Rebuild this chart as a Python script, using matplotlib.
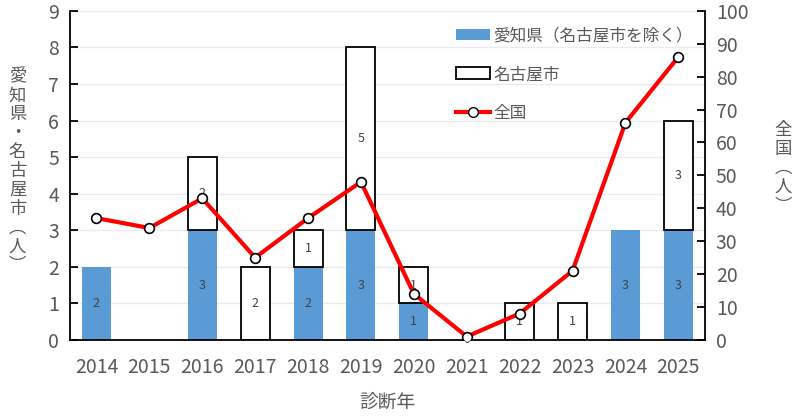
import numpy as np
import matplotlib.pyplot as plt
from matplotlib.lines import Line2D
from matplotlib.patches import Patch

plt.rcParams['font.family'] = ['Noto Sans CJK JP', 'DejaVu Sans']

years = ['2014', '2015', '2016', '2017', '2018', '2019', '2020', '2021', '2022', '2023', '2024', '2025']
aichi = [2, 0, 3, 0, 2, 3, 1, 0, 0, 0, 3, 3]      # 愛知県（名古屋市を除く）
nagoya = [0, 0, 2, 2, 1, 5, 1, 0, 1, 1, 0, 3]     # 名古屋市
national = [37, 34, 43, 25, 37, 48, 14, 1, 8, 21, 66, 86]  # 全国

gray = '#595959'
blue = '#5b9bd5'

fig = plt.figure(figsize=(8, 4.16), dpi=100)
ax = fig.add_axes([0.0875, 0.183, 0.7935, 0.791])
x = np.arange(len(years))
w = 0.55

# zero-height bars would still draw an edge line, so hide them
aichi_h = np.where(np.array(aichi) > 0, aichi, np.nan)
nagoya_h = np.where(np.array(nagoya) > 0, nagoya, np.nan)

ax.bar(x, aichi_h, w, color=blue, zorder=2)
ax.bar(x, nagoya_h, w, bottom=aichi, color='white', edgecolor='black', linewidth=1.3, zorder=2)

# data labels
for i in range(len(years)):
    if aichi[i] > 0:
        ax.text(x[i], aichi[i] / 2, str(aichi[i]), ha='center', va='center', fontsize=9, color='#404040', zorder=3)
    if nagoya[i] > 0 or years[i] == '2021':
        ax.text(x[i], aichi[i] + nagoya[i] / 2, str(nagoya[i]), ha='center', va='center', fontsize=9, color='#404040', zorder=3)

ax.set_xlim(-0.5, len(years) - 0.5)
ax.set_ylim(0, 9)
ax.set_yticks(range(10))
ax.set_xticks(x, years)
ax.yaxis.grid(True, color='#ebebeb', linewidth=1, zorder=0)
ax.set_axisbelow(True)
ax.tick_params(axis='y', direction='in', length=6, width=1.3, labelsize=14, labelcolor=gray, pad=8)
ax.tick_params(axis='x', length=0, labelsize=14, labelcolor=gray, pad=12)
for s in ['top', 'right']:
    ax.spines[s].set_visible(False)
ax.spines['left'].set_linewidth(1.3)
ax.spines['bottom'].set_linewidth(1.3)

ax2 = ax.twinx()
ax2.plot(x, national, color='#ff0000', linewidth=3, marker='o', markersize=7,
         markerfacecolor='white', markeredgecolor='black', markeredgewidth=1.2, zorder=5)
ax2.set_ylim(0, 100)
ax2.set_yticks(range(0, 101, 10))
ax2.tick_params(axis='y', direction='in', length=6, width=1.3, labelsize=14, labelcolor=gray, pad=8)
for s in ['top', 'left', 'bottom']:
    ax2.spines[s].set_visible(False)
ax2.spines['right'].set_linewidth(1.3)

# vertical axis titles
fig.text(0.022, 0.589, '\n'.join('愛知県・名古屋市︵人︶'), ha='center', va='center',
         fontsize=12.5, color=gray, linespacing=1.06)
fig.text(0.979, 0.596, '\n'.join('全国︵人︶'), ha='center', va='center',
         fontsize=12.5, color=gray, linespacing=1.06)
fig.text(0.484, 0.034, '診断年', ha='center', va='center', fontsize=13.5, color=gray)

handles = [Patch(facecolor=blue, edgecolor='none'),
           Patch(facecolor='white', edgecolor='black', linewidth=1.3),
           Line2D([0], [0], color='#ff0000', linewidth=3, marker='o', markersize=7,
                  markerfacecolor='white', markeredgecolor='black')]
leg = ax2.legend(handles, ['愛知県（名古屋市を除く）', '名古屋市', '全国'], loc='upper left',
                 bbox_to_anchor=(0.585, 0.995), frameon=False, fontsize=12, labelspacing=1.3,
                 handlelength=2.0, handletextpad=0.2)
for t in leg.get_texts():
    t.set_color(gray)

fig.savefig('out.png', dpi=100)
